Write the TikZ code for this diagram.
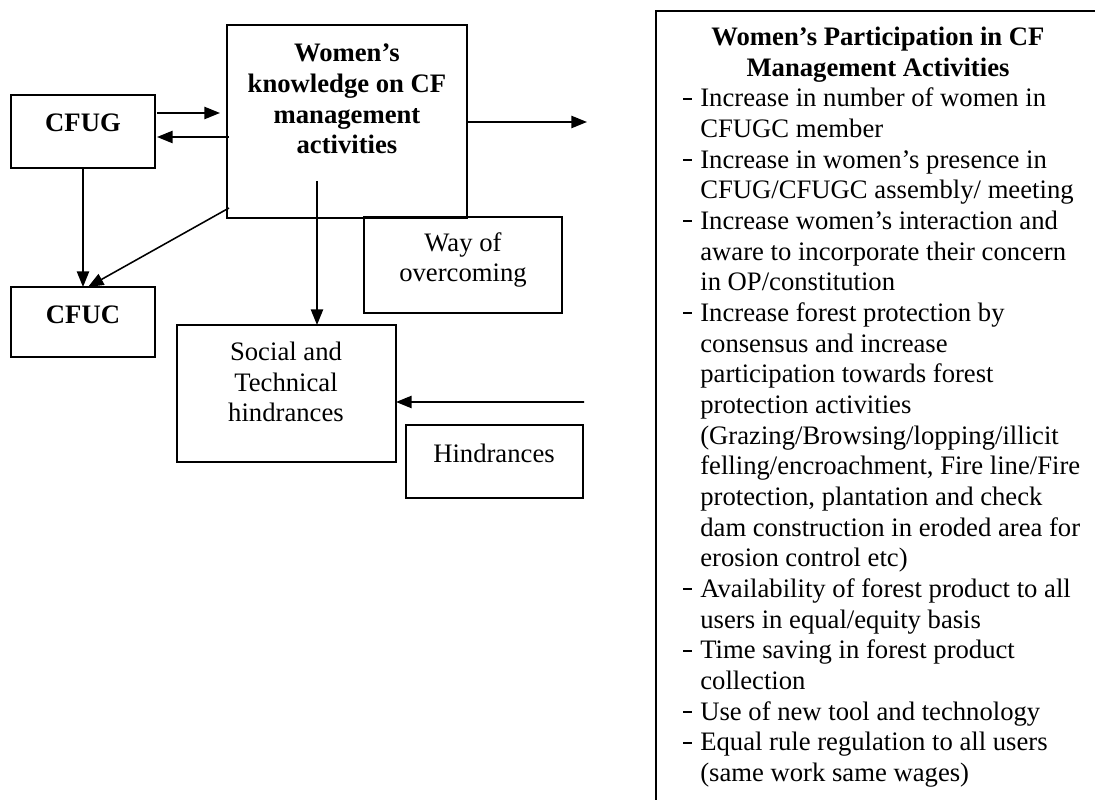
\documentclass[tikz,border=0pt]{standalone}
\usepackage{fontspec}
\setmainfont{Liberation Serif}
\usetikzlibrary{arrows.meta,fit,calc}
\newcommand{\listdash}{\rule[3.3pt]{3.8pt}{0.9pt}}

\begin{document}
\begin{tikzpicture}
[x=0.45pt,y=-0.45pt,%
  boxDecorate/.style={draw,line width=0.9pt,inner sep=0pt,outer sep=0pt},%
  lineDecorate/.style={-{Triangle[length=7pt,width=5.5pt]},line width=0.7pt},%
  textDecorate/.style={align=center,font=\fontsize{12}{13.8}\selectfont},%
  boldDecorate/.style={align=center,font=\fontsize{12}{13.8}\selectfont\bfseries}]
\useasboundingbox (0,0) rectangle (1095,800);
%% boxes
\foreach \nodename/\xa/\ya/\xb/\yb in {
  cfug/11/95/155/168, cfuc/11/287/155/357, know/227/25/467/218,
  way/364/217/562/313, social/177/325/396/462, hind/406/425/583/498,
  panel/656/11/1102/812}
{
  \node (\nodename) [boxDecorate,fit={(\xa,\ya) (\xb,\yb)}] {};
}
%% texts in the boxes
\node (cfugText) at (83,123) [boldDecorate] {CFUG};
\node (cfucText) at (83,315) [boldDecorate] {CFUC};
\node (knowText) at (347,99) [boldDecorate] {Women’s\\knowledge on CF\\management\\activities};
\node (wayText) at (463,260) [textDecorate] {Way of\\overcoming};
\node (socialText) at (286,382) [textDecorate] {Social and\\Technical\\hindrances};
\node (hindText) at (494,453) [textDecorate] {Hindrances};
\node (panelTitle) at (878,55) [boldDecorate] {Women’s Participation in CF\\Management Activities};
\node (panelList) at (683,107) [anchor=base west,inner sep=0pt,font=\fontsize{12}{13.8}\selectfont]
{\begin{tabular}[t]{@{}p{7.6pt}@{}l@{}}
\listdash & Increase in number of women in\\
  & CFUGC member\\
\listdash & Increase in women’s presence in\\
  & CFUG/CFUGC assembly/ meeting\\
\listdash & Increase women’s interaction and\\
  & aware to incorporate their concern\\
  & in OP/constitution\\
\listdash & Increase forest protection by\\
  & consensus and increase\\
  & participation towards forest\\
  & protection activities\\
  & (Grazing/Browsing/lopping/illicit\\
  & felling/encroachment, Fire line/Fire\\
  & protection, plantation and check\\
  & dam construction in eroded area for\\
  & erosion control etc)\\
\listdash & Availability of forest product to all\\
  & users in equal/equity basis\\
\listdash & Time saving in forest product\\
  & collection\\
\listdash & Use of new tool and technology\\
\listdash & Equal rule regulation to all users\\
  & (same work same wages)
\end{tabular}};
%% free ends of connectors
\coordinate (outRight) at (587,122);
\coordinate (inRight) at (584,402);
%% connectors
\draw[lineDecorate] ($(cfug.north east)+(2,18)$) -- ($(know.north west)+(-7,88)$);
\draw[lineDecorate] ($(know.north west)+(2,112)$) -- ($(cfug.north east)+(2,42)$);
\draw[lineDecorate] (cfug) -- (cfuc);
\draw[lineDecorate] ($(know.north west)+(2,183)$) -- ($(cfuc.north)+(5,0)$);
\draw[lineDecorate] ($(know.north east)+(0,97)$) -- (outRight);
\draw[lineDecorate] ($(know.north west)+(90,156)$) -- ($(social.north west)+(140,0)$);
\draw[lineDecorate] (inRight) -- ($(social.north east)+(0,77)$);
\end{tikzpicture}
\end{document}
